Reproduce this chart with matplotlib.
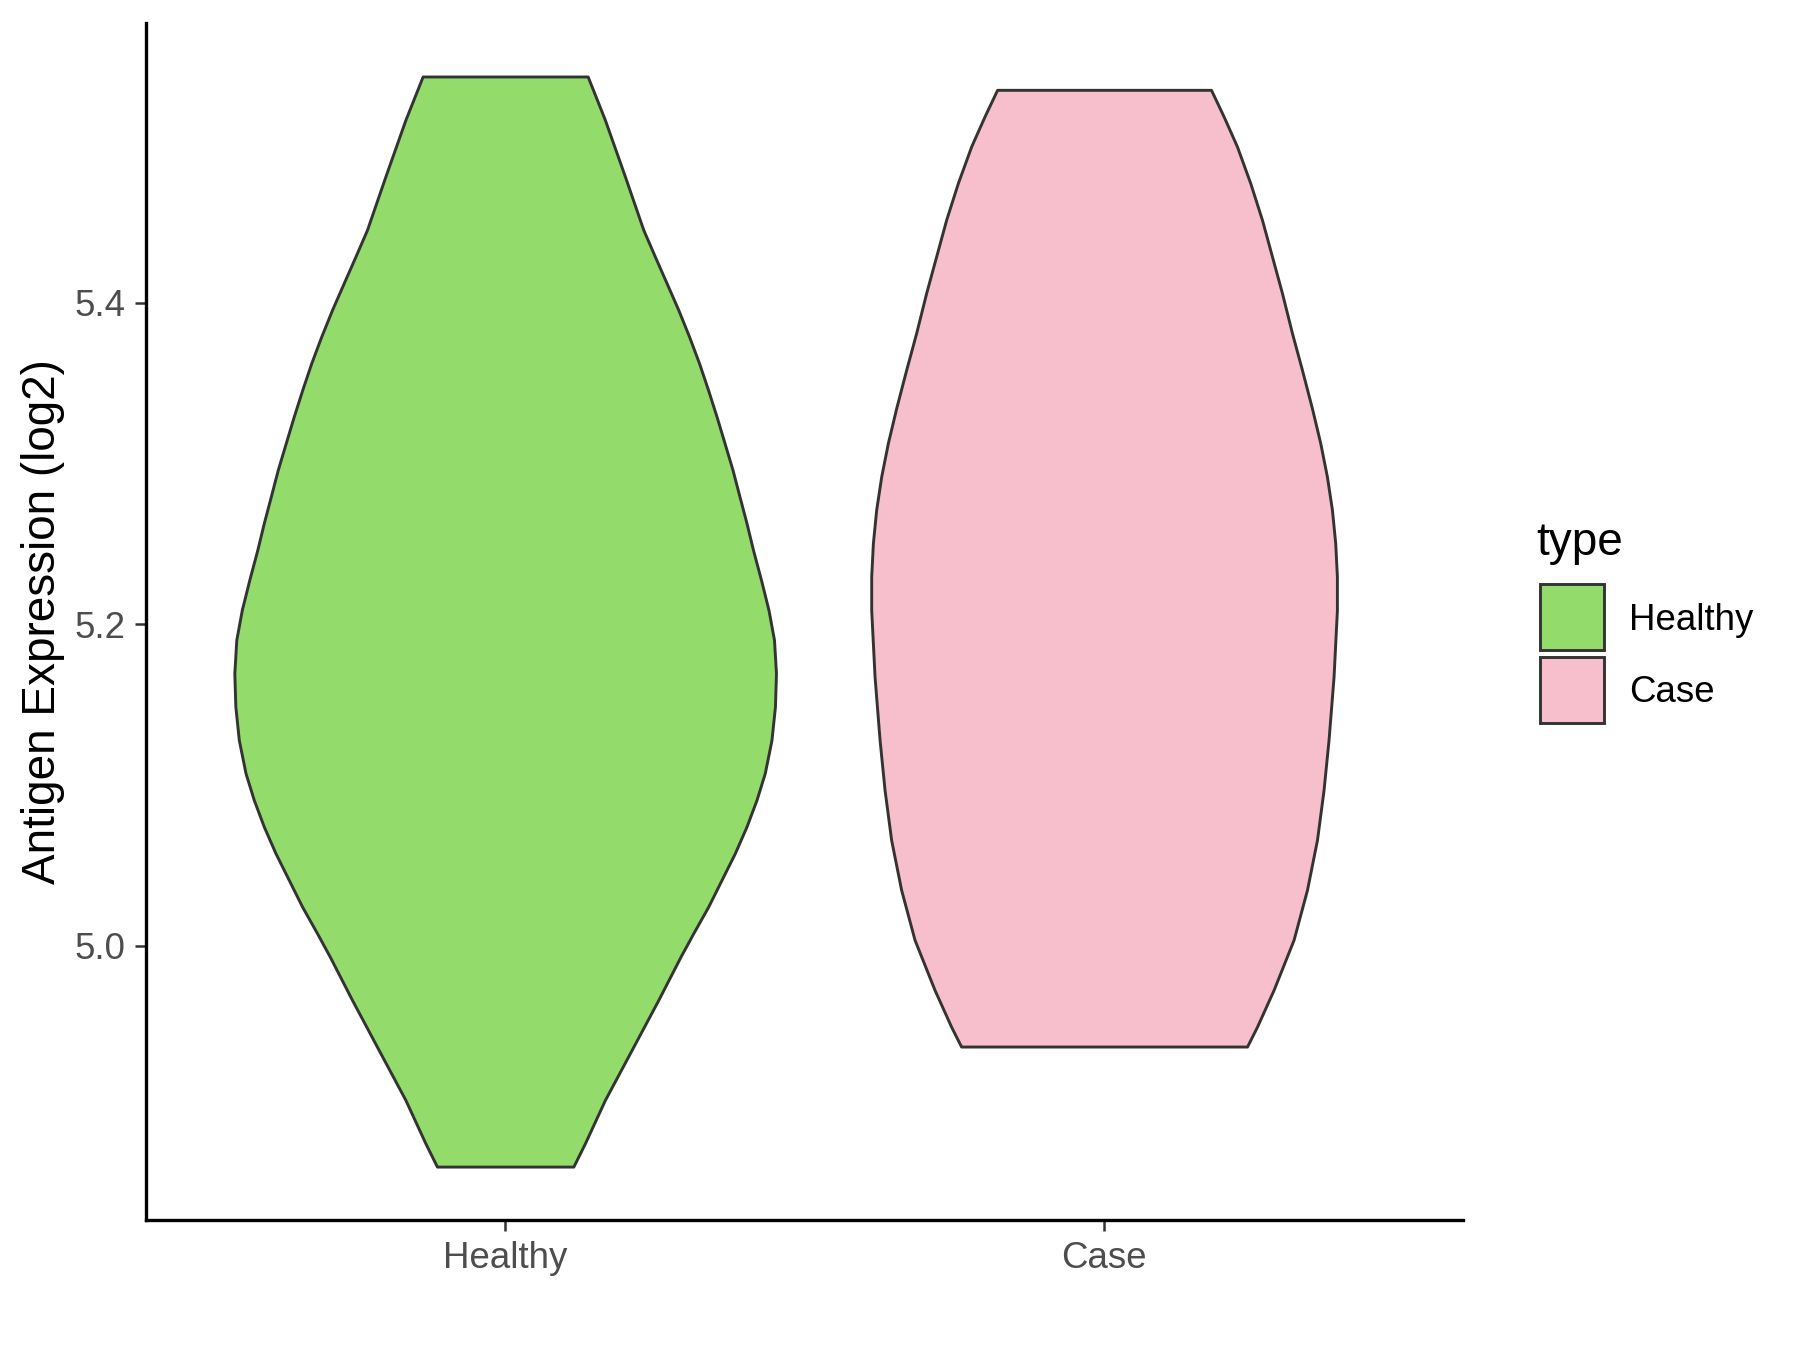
# Violin plot of antigen expression (log2) for Healthy vs Case, styled like ggplot theme_classic
import numpy as np
import matplotlib
matplotlib.use('Agg')
import matplotlib.pyplot as plt
from matplotlib.patches import Rectangle

plt.rcParams['font.family'] = ['Liberation Sans', 'DejaVu Sans']

CATEGORIES = ['Healthy', 'Case']
COLORS = ['#93DB6B', '#F7BFCB']
EDGE = '#333333'

# violin outlines: expression level and half-width (category units)
healthy_y = [5.5409, 5.5139, 5.4787, 5.4455, 5.4289, 5.4123, 5.3957, 5.3791, 5.3625,
             5.3459, 5.3293, 5.3128, 5.2961, 5.2795, 5.2630, 5.2464, 5.2277, 5.2090,
             5.1904, 5.1696, 5.1489, 5.1281, 5.1074, 5.0908, 5.0742, 5.0576, 5.0410,
             5.0244, 5.0078, 4.9933, 4.9663, 4.9352, 4.9041, 4.8772, 4.8626]
healthy_w = [0.1378, 0.1666, 0.2000, 0.2307, 0.2500, 0.2696, 0.2891, 0.3071, 0.3238,
             0.3388, 0.3530, 0.3663, 0.3797, 0.3913, 0.4030, 0.4138, 0.4272, 0.4397,
             0.4489, 0.4522, 0.4505, 0.4447, 0.4335, 0.4197, 0.4030, 0.3835, 0.3613,
             0.3391, 0.3141, 0.2929, 0.2557, 0.2112, 0.1666, 0.1333, 0.1139]

case_y = [5.5326, 5.5160, 5.4973, 5.4745, 5.4517, 5.4289, 5.4061, 5.3812, 5.3584,
          5.3345, 5.3128, 5.2920, 5.2713, 5.2505, 5.2297, 5.2090, 5.1883, 5.1675,
          5.1468, 5.1281, 5.0970, 5.0659, 5.0348, 5.0037, 4.9726, 4.9497, 4.9373]
case_w = [0.1786, 0.1997, 0.2220, 0.2442, 0.2637, 0.2804, 0.2971, 0.3138, 0.3304,
          0.3471, 0.3610, 0.3721, 0.3805, 0.3860, 0.3888, 0.3888, 0.3860, 0.3832,
          0.3788, 0.3748, 0.3665, 0.3555, 0.3388, 0.3164, 0.2831, 0.2554, 0.2387]

Y_TICKS = [5.0, 5.2, 5.4]
Y_TICK_LABELS = ['5.0', '5.2', '5.4']


def create():
    fig = plt.figure(figsize=(12, 9), dpi=150)
    ax = fig.add_axes([0.081, 0.0961, 0.732, 0.887])

    profiles = [(healthy_y, healthy_w), (case_y, case_w)]
    for pos, (ys, ws), color in zip([1, 2], profiles, COLORS):
        ys = np.array(ys)
        ws = np.array(ws)
        ax.fill_betweenx(ys, pos - ws, pos + ws, facecolor=color,
                         edgecolor=EDGE, linewidth=1.4, joinstyle='round')

    ax.set_xlim(0.4, 2.6)
    ax.set_ylim(4.8292, 5.5743)
    ax.set_xticks([1, 2])
    ax.set_xticklabels(CATEGORIES)
    ax.set_yticks(Y_TICKS)
    ax.set_yticklabels(Y_TICK_LABELS)

    for side in ['top', 'right']:
        ax.spines[side].set_visible(False)
    for side in ['left', 'bottom']:
        ax.spines[side].set_linewidth(1.6)
        ax.spines[side].set_color('black')
    ax.tick_params(length=5.5, width=1.2, color='#333333', labelcolor='#4D4D4D',
                   labelsize=17.6, pad=4.4)

    ax.set_ylabel('Antigen Expression (log2)', fontsize=22, color='black')
    ax.yaxis.set_label_coords(-0.0613, 0.5)

    # legend drawn by hand, ggplot style (square keys stacked, title above)
    fig.text(0.8536, 0.5889, 'type', fontsize=22, ha='left', va='baseline')
    key_bottoms = [0.51815, 0.46481]
    label_baselines = [0.53333, 0.48022]
    for name, color, kb, lb in zip(CATEGORIES, COLORS, key_bottoms, label_baselines):
        fig.patches.append(Rectangle((0.8553, kb), 0.03556, 0.04889,
                                     transform=fig.transFigure, facecolor=color,
                                     edgecolor=EDGE, linewidth=1.4))
        fig.text(0.905, lb, name, fontsize=17.6, ha='left', va='baseline')

    fig.savefig('out.png', dpi=150)


if __name__ == "__main__":
    create()
